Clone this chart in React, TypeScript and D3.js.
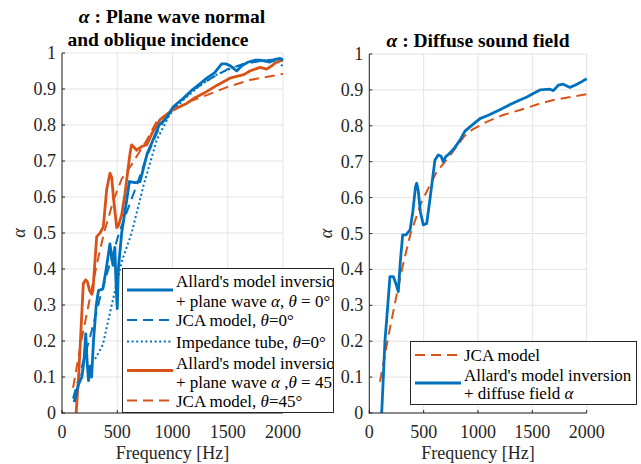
import React from "react";
import * as d3 from "d3";

type P = [number, number];

const xTicks = [0, 500, 1000, 1500, 2000];
const yTicks = [0, 0.1, 0.2, 0.3, 0.4, 0.5, 0.6, 0.7, 0.8, 0.9, 1];

// Left panel: plane wave normal & oblique incidence
const allard0: P[] = [
  [110, 0.03], [150, 0.08], [180, 0.1], [200, 0.15], [215, 0.22], [228, 0.14], [240, 0.09], [255, 0.13],
  [268, 0.1], [285, 0.2], [310, 0.3], [330, 0.34], [370, 0.345], [400, 0.4], [434, 0.47], [450, 0.43],
  [462, 0.41], [478, 0.46], [490, 0.35], [500, 0.29], [510, 0.4], [540, 0.5], [585, 0.59], [610, 0.643],
  [660, 0.64], [706, 0.643], [721, 0.66], [770, 0.72], [812, 0.75], [880, 0.8], [947, 0.82], [1005, 0.85],
  [1100, 0.875], [1187, 0.9], [1250, 0.915], [1310, 0.93], [1380, 0.945], [1445, 0.97], [1480, 0.97],
  [1520, 0.965], [1581, 0.95], [1630, 0.965], [1686, 0.975], [1750, 0.98], [1792, 0.98], [1882, 0.975],
  [1930, 0.982], [1973, 0.985], [2000, 0.98],
];
const jca0: P[] = [
  [100, 0.04], [190, 0.14], [270, 0.23], [344, 0.32], [434, 0.415], [525, 0.508], [600, 0.57], [676, 0.633],
  [767, 0.712], [857, 0.777], [962, 0.832], [1050, 0.86], [1200, 0.9], [1350, 0.93], [1500, 0.955],
  [1650, 0.97], [1800, 0.978], [2000, 0.985],
];
const tube0: P[] = [
  [300, 0.15], [370, 0.19], [450, 0.3], [540, 0.42], [630, 0.5], [736, 0.63], [857, 0.758], [977, 0.83],
  [1100, 0.87], [1250, 0.91], [1400, 0.94], [1550, 0.96], [1700, 0.975], [1850, 0.98], [1950, 0.975], [2000, 0.963],
];
const allard45: P[] = [
  [128, 0], [150, 0.1], [175, 0.25], [193, 0.36], [215, 0.37], [229, 0.365], [250, 0.34], [269, 0.33],
  [280, 0.34], [299, 0.425], [314, 0.49], [344, 0.5], [374, 0.517], [404, 0.62], [434, 0.666], [450, 0.655],
  [465, 0.6], [495, 0.515], [510, 0.52], [540, 0.55], [570, 0.61], [615, 0.72], [630, 0.745], [676, 0.73],
  [720, 0.74], [767, 0.745], [820, 0.78], [887, 0.815], [993, 0.84], [1060, 0.85], [1128, 0.86], [1200, 0.875],
  [1294, 0.89], [1400, 0.91], [1520, 0.93], [1580, 0.935], [1645, 0.94], [1700, 0.95], [1792, 0.96],
  [1853, 0.955], [1900, 0.965], [1943, 0.975], [2000, 0.98],
];
const jca45: P[] = [
  [100, 0.07], [175, 0.2], [240, 0.3], [320, 0.42], [380, 0.5], [465, 0.59], [540, 0.65], [630, 0.69],
  [767, 0.758], [857, 0.81], [1000, 0.84], [1150, 0.865], [1310, 0.883], [1500, 0.906], [1700, 0.925], [2000, 0.942],
];

// Right panel: diffuse sound field
const jcaDiffuse: P[] = [
  [98, 0.087], [175, 0.213], [236, 0.306], [313, 0.417], [380, 0.5], [482, 0.589], [620, 0.672], [750, 0.72],
  [870, 0.77], [950, 0.79], [1080, 0.811], [1230, 0.83], [1386, 0.844], [1550, 0.86], [1693, 0.872],
  [1850, 0.88], [2000, 0.888],
];
const allardDiffuse: P[] = [
  [114, 0], [144, 0.2], [170, 0.3], [190, 0.38], [221, 0.38], [245, 0.36], [267, 0.338], [285, 0.42],
  [307, 0.496], [338, 0.496], [375, 0.51], [400, 0.56], [425, 0.63], [436, 0.64], [450, 0.62], [470, 0.56],
  [497, 0.524], [528, 0.528], [560, 0.6], [604, 0.705], [635, 0.719], [660, 0.715], [681, 0.7], [705, 0.715],
  [727, 0.72], [760, 0.73], [788, 0.74], [834, 0.76], [880, 0.785], [926, 0.797], [1018, 0.82], [1100, 0.83],
  [1202, 0.845], [1300, 0.86], [1386, 0.872], [1450, 0.88], [1509, 0.89], [1570, 0.9], [1662, 0.902],
  [1693, 0.898], [1739, 0.913], [1785, 0.916], [1846, 0.907], [1892, 0.913], [1954, 0.923], [2000, 0.931],
];

const BLUE = "#0072BD";
const ORANGE = "#D95319";
const FONT = "Liberation Serif, Tinos, Times New Roman, DejaVu Serif, serif";
const AX = "#262626";
const DASH = "10,6";
const DOT = "2,2.6";
const TICK_FS = 18;
const LEG_FS = 17;
const TITLE_FS = 19.5;

type Series = { data: P[]; color: string; dash?: string; width: number };

const tStyle: React.CSSProperties = { fontFamily: FONT };

function Panel(props: { x0: number; x1: number; y0: number; y1: number; series: Series[] }) {
  const { x0, x1, y0, y1, series } = props;
  const x = d3.scaleLinear().domain([0, 2000]).range([x0, x1]);
  const y = d3.scaleLinear().domain([0, 1]).range([y0, y1]);
  const line = d3.line<P>().x((d) => x(d[0])).y((d) => y(d[1]));
  return (
    <g style={tStyle}>
      {xTicks.map((t) => (
        <line key={"gx" + t} x1={x(t)} x2={x(t)} y1={y0} y2={y1} stroke="#e3e3e3" strokeWidth={1} />
      ))}
      {yTicks.map((t) => (
        <line key={"gy" + t} x1={x0} x2={x1} y1={y(t)} y2={y(t)} stroke="#e3e3e3" strokeWidth={1} />
      ))}
      {series.map((s, i) => (
        <path key={i} d={line(s.data) || ""} fill="none" stroke={s.color} strokeWidth={s.width}
          strokeDasharray={s.dash} strokeLinejoin="round" />
      ))}
      <line x1={x0} x2={x0} y1={y0 + 0.5} y2={y1} stroke={AX} strokeWidth={1} />
      <line x1={x0 - 0.5} x2={x1} y1={y0} y2={y0} stroke={AX} strokeWidth={1} />
      {xTicks.map((t) => (
        <g key={"tx" + t}>
          <line x1={x(t)} x2={x(t)} y1={y0} y2={y0 - 3} stroke={AX} />
          <text x={x(t)} y={y0 + 25} textAnchor="middle" fontSize={TICK_FS} fill={AX} style={tStyle}>{t}</text>
        </g>
      ))}
      {yTicks.map((t) => (
        <g key={"ty" + t}>
          <line x1={x0} x2={x0 + 3} y1={y(t)} y2={y(t)} stroke={AX} />
          <text x={x0 - 6} y={y(t) + 6} textAnchor="end" fontSize={TICK_FS} fill={AX} style={tStyle}>
            {d3.format("~g")(t)}
          </text>
        </g>
      ))}
      <text x={(x0 + x1) / 2} y={y0 + 46} textAnchor="middle" fontSize={TICK_FS} fill={AX} style={tStyle}>
        Frequency [Hz]
      </text>
      <text transform={`translate(${x0 - 37},${(y0 + y1) / 2}) rotate(-90)`} textAnchor="middle"
        fontSize={TICK_FS} fill={AX} fontStyle="italic" style={tStyle}>α</text>
    </g>
  );
}

const It = (p: { children: React.ReactNode }) => <tspan fontStyle="italic">{p.children}</tspan>;

export default function App() {
  const leftSeries: Series[] = [
    { data: tube0, color: BLUE, dash: DOT, width: 2 },
    { data: jca0, color: BLUE, dash: DASH, width: 2 },
    { data: jca45, color: ORANGE, dash: DASH, width: 2 },
    { data: allard45, color: ORANGE, width: 2.8 },
    { data: allard0, color: BLUE, width: 2.8 },
  ];
  const rightSeries: Series[] = [
    { data: jcaDiffuse, color: ORANGE, dash: DASH, width: 2 },
    { data: allardDiffuse, color: BLUE, width: 2.8 },
  ];
  const lx1 = 127, lx2 = 173, ltx = 176;
  const rx1 = 415, rx2 = 461, rtx = 464;
  return (
    <svg width={641} height={464} style={{ position: "absolute", left: 0, top: 0, background: "#fff", fontFamily: FONT }}>
      <defs>
        <clipPath id="leftclip"><rect x={0} y={0} width={334} height={464} /></clipPath>
        <clipPath id="legclip"><rect x={0} y={0} width={333} height={464} /></clipPath>
      </defs>
      <g clipPath="url(#leftclip)" style={tStyle}>
        <text x={172} y={23} textAnchor="middle" fontSize={TITLE_FS} fontWeight="bold" style={tStyle}>
          <It>α</It> : Plane wave normal
        </text>
        <text x={158} y={46} textAnchor="middle" fontSize={TITLE_FS} fontWeight="bold" style={tStyle}>
          and oblique incidence
        </text>
        <Panel x0={62} x1={283} y0={413} y1={53} series={leftSeries} />
        <rect x={122.5} y={268.5} width={211} height={144} fill="#fff" stroke={AX} strokeWidth={1} />
        <g fontSize={LEG_FS} fill="#000" style={tStyle} clipPath="url(#legclip)">
          <line x1={lx1} x2={lx2} y1={290} y2={290} stroke={BLUE} strokeWidth={2.8} />
          <text x={ltx} y={287}>Allard's model inversion</text>
          <text x={ltx} y={306.5}>+ plane wave <It>α</It>, <It>θ</It> = 0°</text>
          <line x1={lx1} x2={lx2} y1={320} y2={320} stroke={BLUE} strokeWidth={2} strokeDasharray={DASH} />
          <text x={ltx} y={326}>JCA model, <It>θ</It>=0°</text>
          <line x1={lx1} x2={lx2} y1={341.5} y2={341.5} stroke={BLUE} strokeWidth={2} strokeDasharray={DOT} />
          <text x={ltx} y={347.5}>Impedance tube, <It>θ</It>=0°</text>
          <line x1={lx1} x2={lx2} y1={370.5} y2={370.5} stroke={ORANGE} strokeWidth={2.8} />
          <text x={ltx} y={369}>Allard's model inversion</text>
          <text x={ltx} y={387.5}>+ plane wave <It>α</It> ,<It>θ</It> = 45°</text>
          <line x1={lx1} x2={lx2} y1={400.5} y2={400.5} stroke={ORANGE} strokeWidth={2} strokeDasharray={DASH} />
          <text x={ltx} y={406.5}>JCA model, <It>θ</It>=45°</text>
        </g>
      </g>
      <text x={478} y={47} textAnchor="middle" fontSize={TITLE_FS} fontWeight="bold" style={tStyle}>
        <It>α</It> : Diffuse sound field
      </text>
      <Panel x0={369.3} x1={586.7} y0={413} y1={54} series={rightSeries} />
      <rect x={410.5} y={341.5} width={226} height={63} fill="#fff" stroke={AX} strokeWidth={1} />
      <g fontSize={LEG_FS} fill="#000" style={tStyle}>
        <line x1={rx1} x2={rx2} y1={355} y2={355} stroke={ORANGE} strokeWidth={2} strokeDasharray={DASH} />
        <text x={rtx} y={361}>JCA model</text>
        <line x1={rx1} x2={rx2} y1={383} y2={383} stroke={BLUE} strokeWidth={2.8} />
        <text x={rtx} y={381}>Allard's model inversion</text>
        <text x={rtx} y={399}>+ diffuse field <It>α</It></text>
      </g>
    </svg>
  );
}
